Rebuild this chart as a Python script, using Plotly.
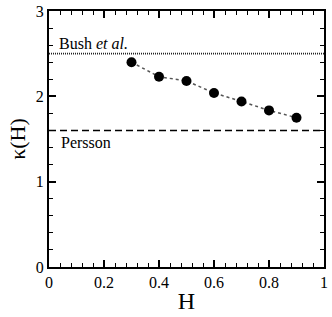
import plotly.graph_objects as go

H = [0.3, 0.4, 0.5, 0.6, 0.7, 0.8, 0.9]
kappa = [2.40, 2.23, 2.18, 2.04, 1.94, 1.835, 1.75]
bush_value = 2.5
persson_value = 1.6
x_ticks = [0, 0.2, 0.4, 0.6, 0.8, 1]
y_ticks = [0, 1, 2, 3]
x_minor_step = 0.04
y_minor_step = 0.2

x_minor = [round(i * x_minor_step, 4) for i in range(int(round(x_ticks[-1] / x_minor_step)) + 1)]
y_minor = [round(i * y_minor_step, 4) for i in range(int(round(y_ticks[-1] / y_minor_step)) + 1)]

FONT = "Liberation Serif"
XR = [x_ticks[0], x_ticks[-1]]
YR = [y_ticks[0], y_ticks[-1]]

fig = go.Figure()
fig.add_trace(go.Scatter(
    x=H, y=kappa, mode="lines+markers",
    line=dict(color="#555555", width=1.5, dash="dot"),
    marker=dict(color="black", size=10),
    showlegend=False,
))
# empty helper traces so that the overlay (tick-only) axes are created
for xa, ya in [("x2", "y"), ("x3", "y"), ("x4", "y"), ("x", "y2"), ("x", "y3"), ("x", "y4")]:
    fig.add_trace(go.Scatter(x=[None], y=[None], xaxis=xa, yaxis=ya, mode="markers",
                             showlegend=False, hoverinfo="skip"))

fig.add_shape(type="line", xref="x", yref="y", x0=XR[0], x1=XR[1], y0=bush_value, y1=bush_value,
              line=dict(color="#222222", width=1.8, dash="1px,1px"))
fig.add_shape(type="line", xref="x", yref="y", x0=XR[0], x1=XR[1], y0=persson_value, y1=persson_value,
              line=dict(color="black", width=1.6, dash="7px,4px"))
fig.add_annotation(x=0.03, y=bush_value, text="Bush <i>et al.</i>", showarrow=False,
                   xanchor="left", yanchor="bottom", font=dict(family=FONT, size=16, color="black"))
fig.add_annotation(x=0.035, y=persson_value, yshift=-2, text="Persson", showarrow=False,
                   xanchor="left", yanchor="top", font=dict(family=FONT, size=16, color="black"))


def tick_axis(rng, vals, length, width, side, line, labels=False):
    return dict(range=rng, tickmode="array", tickvals=vals, ticks="inside", ticklen=length,
                tickwidth=width, tickcolor="black", side=side, showticklabels=labels,
                showline=line, linecolor="black", linewidth=2, showgrid=False,
                zeroline=False, automargin=False, fixedrange=True)


xmain = tick_axis(XR, x_ticks, 7, 1.5, "bottom", True, labels=True)
xmain.update(tickfont=dict(family=FONT, size=16, color="black"),
             title=dict(text="H", font=dict(family=FONT, size=24, color="black"), standoff=2))
ymain = tick_axis(YR, y_ticks, 7, 1.5, "left", True, labels=True)
ymain.update(tickfont=dict(family=FONT, size=16, color="black"),
             title=dict(text="κ(H)", font=dict(family=FONT, size=22, color="black"), standoff=4))

x2 = tick_axis(XR, x_minor, 4, 1, "bottom", False); x2.update(overlaying="x", anchor="y")
x3 = tick_axis(XR, x_ticks, 7, 1.5, "top", True); x3.update(overlaying="x", anchor="y")
x4 = tick_axis(XR, x_minor, 4, 1, "top", False); x4.update(overlaying="x", anchor="y")
y2 = tick_axis(YR, y_minor, 4, 1, "left", False); y2.update(overlaying="y", anchor="x")
y3 = tick_axis(YR, y_ticks, 7, 1.5, "right", True); y3.update(overlaying="y", anchor="x")
y4 = tick_axis(YR, y_minor, 4, 1, "right", False); y4.update(overlaying="y", anchor="x")

fig.update_layout(
    width=332, height=317,
    margin=dict(l=49, r=8, t=11, b=50),
    paper_bgcolor="white", plot_bgcolor="white",
    font=dict(family=FONT, size=16, color="black"),
    showlegend=False,
    xaxis=xmain, xaxis2=x2, xaxis3=x3, xaxis4=x4,
    yaxis=ymain, yaxis2=y2, yaxis3=y3, yaxis4=y4,
)
fig.write_html("out.html", config={"displayModeBar": False},
               post_script="document.body.style.margin='0';document.body.style.overflow='hidden';")
